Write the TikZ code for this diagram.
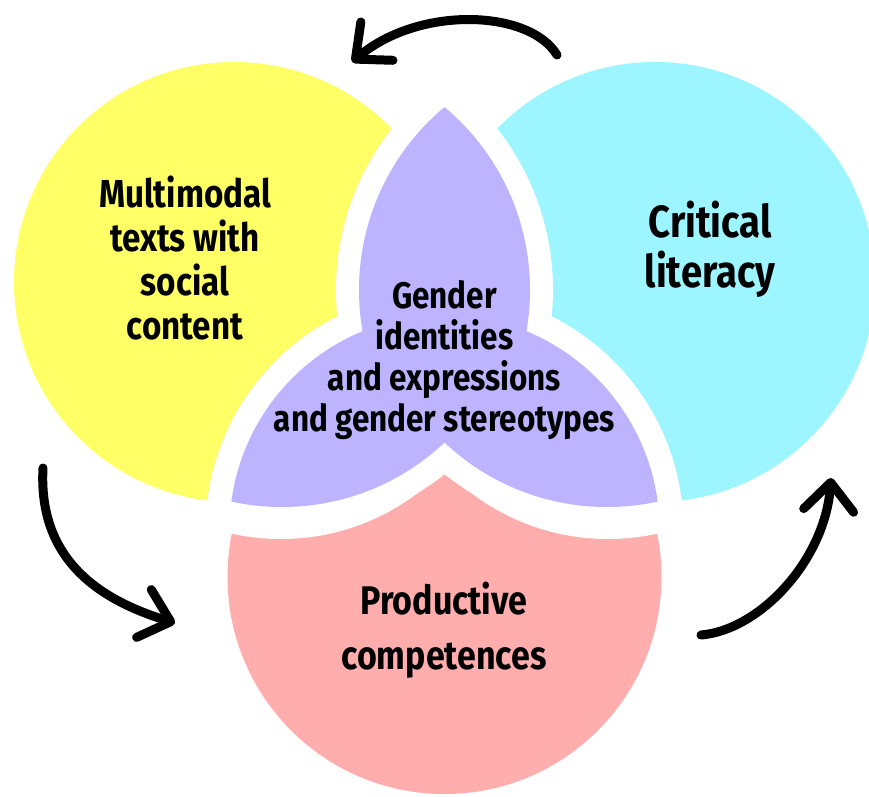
\documentclass[tikz,border=0pt]{standalone}
\usepackage{fontspec}
\newfontfamily\hand{Fira Sans}[FakeStretch=0.85]
\usetikzlibrary{arrows.meta}
\definecolor{cyel}{RGB}{255,255,102}
\definecolor{ccyan}{RGB}{156,245,255}
\definecolor{cpink}{RGB}{255,173,173}
\definecolor{cpurp}{RGB}{189,179,255}
\begin{document}
\begin{tikzpicture}[x=1pt,y=-1pt,
  lbl/.style={align=center, text=black, inner sep=0pt},
  sideA/.style={lbl, font=\hand\bfseries\fontsize{39}{44}\selectfont},
  sideB/.style={lbl, font=\hand\bfseries\fontsize{45}{50}\selectfont},
  midlbl/.style={lbl, font=\hand\bfseries\fontsize{37}{41}\selectfont},
  botlbl/.style={lbl, font=\hand\bfseries\fontsize{40}{55}\selectfont},
  flow/.style={line width=9pt, line cap=round,
    -{Straight Barb[length=28pt,width=50pt,line width=9pt,round]}}]
\useasboundingbox (0,0) rectangle (869,796);
% pink circle, cut at its top
\fill[cpink] (444.5,577) circle[radius=217pt];
\fill[white] (281,313) circle[radius=226pt];
\fill[white] (608,313) circle[radius=226pt];
% yellow and cyan circles
\fill[cyel] (234,282) circle[radius=220pt];
\fill[ccyan] (655,282) circle[radius=220pt];
% white margins round the purple shape
\begin{scope}
  \clip (0,0) rectangle (869,330);
  \clip (291.5,290) circle[radius=261.5pt];
  \fill[white] (597.5,290) circle[radius=261.5pt];
\end{scope}
\begin{scope}
  \clip (444.5,530) circle[radius=239pt];
  \fill[white] (282,270) circle[radius=261pt];
  \fill[white] (607,270) circle[radius=261pt];
\end{scope}
% purple shape
\begin{scope}
  \clip (0,0) rectangle (869,442.5);
  \clip (291.5,290) circle[radius=238.5pt];
  \fill[cpurp] (597.5,290) circle[radius=238.5pt];
\end{scope}
\begin{scope}
  \clip (444.5,530) circle[radius=215pt];
  \fill[cpurp] (282,270) circle[radius=237pt];
  \fill[cpurp] (607,270) circle[radius=237pt];
\end{scope}
% labels
\node[sideA] (multi) at (185,258) {Multimodal\\texts with\\social\\content};
\node[sideB] (crit) at (710,249) {Critical\\literacy};
\node[midlbl] (gender) at (444.5,360) {Gender\\identities\\and expressions\\and gender stereotypes};
\node[botlbl] (prod) at (444,630) {Productive\\competences};
% arrows
\coordinate (a1s) at (557,55);
\coordinate (a1e) at (352,62);
\coordinate (a2s) at (43,468);
\coordinate (a2e) at (175,623);
\coordinate (a3s) at (701,635);
\coordinate (a3e) at (831,478);
\draw[flow] (a1s) .. controls (530,10) and (420,5) .. (a1e);
\draw[flow] (a2s) .. controls (38,560) and (100,600) .. (a2e);
\draw[flow] (a3s) .. controls (760,630) and (825,560) .. (a3e);
\end{tikzpicture}
\end{document}
